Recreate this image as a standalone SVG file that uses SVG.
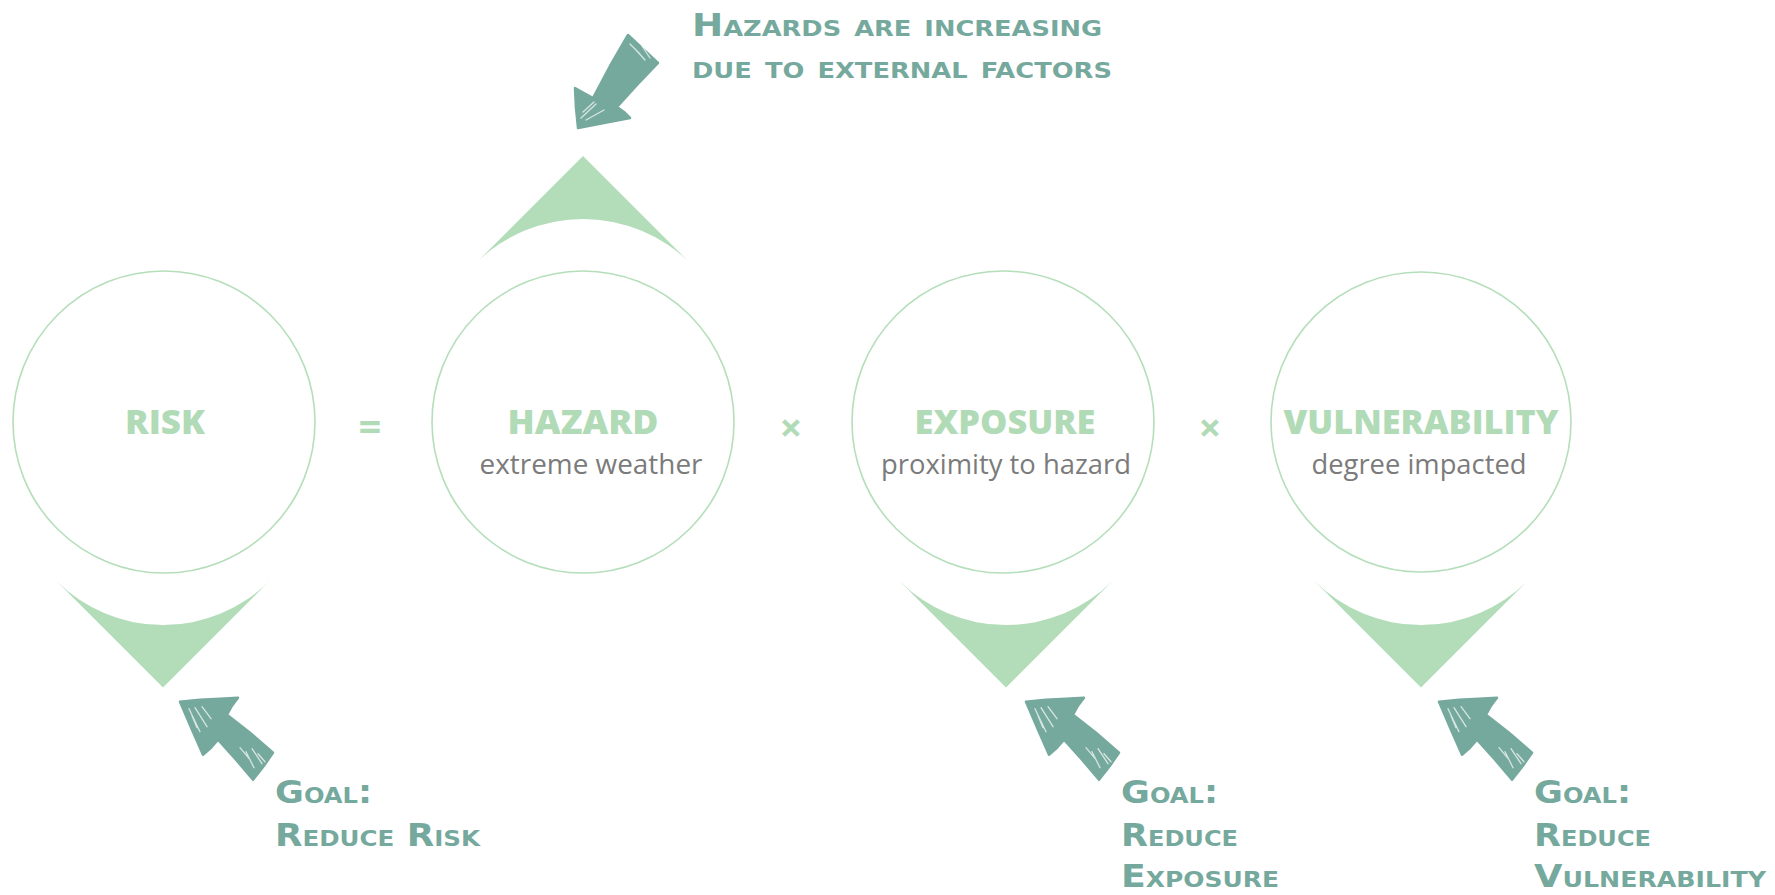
<svg xmlns="http://www.w3.org/2000/svg" xmlns:xlink="http://www.w3.org/1999/xlink" width="1775" height="895" viewBox="0 0 1775 895">
<style>
.ring{fill:none;stroke:#b5deba;stroke-width:1.6}
.chev{fill:#b3dcb8}
.title{font-family:"Open Sans","Liberation Sans",sans-serif;font-weight:800;font-size:34px;fill:#b1dbb6;text-anchor:middle}
.sub{font-family:"Open Sans","Liberation Sans",sans-serif;font-weight:400;font-size:27px;fill:#7b7b7b;text-anchor:middle}
.op{font-family:"Open Sans","Liberation Sans",sans-serif;font-weight:700;font-size:40px;fill:#b1dbb6;text-anchor:middle}
.hand{font-family:"DejaVu Sans",sans-serif;font-weight:bold;font-size:32px;font-variant:small-caps;fill:#76a99d}
.arw{fill:#76a99d;stroke:#76a99d;stroke-width:2.5;stroke-linejoin:round}
.hatch{stroke:#ffffff;stroke-width:1.3;stroke-linecap:round;opacity:0.7;fill:none}
</style>
<defs>
<g id="goalArrow">
<path class="arw" d="M0,0 L20,-2 L40,-3 L58,-4 L52,4 L47,13 L70,31 L93,51 L84,64 L73,78 L56,58 L38,38 L31,46 L23,53 L12,28 Z"/>
<path class="hatch" d="M9,7 L20,30 M15,6 L27,25 M22,5 L31,17 M12,14 L17,26 M66,50 L74,66 M72,47 L82,62 M78,52 L85,60 M60,46 L70,58"/>
</g>
</defs>
<rect width="1775" height="895" fill="#ffffff"/>

<g id="node-risk">
<circle class="ring" cx="164" cy="422" r="151"/>
<text class="title" x="165" y="434" textLength="80" lengthAdjust="spacingAndGlyphs">RISK</text>
</g>

<g id="node-hazard">
<circle class="ring" cx="583" cy="422" r="151"/>
<text class="title" x="583" y="434" textLength="151" lengthAdjust="spacingAndGlyphs">HAZARD</text>
<text class="sub" x="591" y="474" textLength="223" lengthAdjust="spacingAndGlyphs">extreme weather</text>
</g>

<g id="node-exposure">
<circle class="ring" cx="1003" cy="422" r="151"/>
<text class="title" x="1005" y="434" textLength="181" lengthAdjust="spacingAndGlyphs">EXPOSURE</text>
<text class="sub" x="1006" y="474" textLength="250" lengthAdjust="spacingAndGlyphs">proximity to hazard</text>
</g>

<g id="node-vulnerability">
<circle class="ring" cx="1421" cy="422" r="150"/>
<text class="title" x="1421" y="434" textLength="275" lengthAdjust="spacingAndGlyphs">VULNERABILITY</text>
<text class="sub" x="1419" y="474" textLength="215" lengthAdjust="spacingAndGlyphs">degree impacted</text>
</g>

<g id="operators">
<text class="op" x="370" y="441">=</text>
<text class="op" x="791" y="442" font-size="46">×</text>
<text class="op" x="1210" y="442" font-size="46">×</text>
</g>

<g id="chevrons">
<path class="chev" d="M583,156 L690.5,263.5 A152,152 0 0 0 475.5,263.5 Z"/>
<path class="chev" d="M163,687.5 L56.2,580.8 A151,151 0 0 0 269.8,580.8 Z"/>
<path class="chev" d="M1006,687.5 L899.2,580.8 A151,151 0 0 0 1112.8,580.8 Z"/>
<path class="chev" d="M1421,687.5 L1314.2,580.8 A151,151 0 0 0 1527.8,580.8 Z"/>
</g>

<g id="connectors">
<g id="arrow-hazard">
<path class="arw" d="M578,128 L576,108 L575,88 L584,93 L593,98 L610,66 L628,35 L643,49 L658,63 L637,85 L617,107 L624,112 L630,118 L604,123 Z"/>
<path class="hatch" d="M581,118 L596,104 M583,112 L594,102 M586,120 L604,110 M636,50 L645,60 M630,44 L640,54 M642,46 L650,58"/>
</g>
<use xlink:href="#goalArrow" x="180" y="701.7"/>
<use xlink:href="#goalArrow" x="1026" y="701.7"/>
<use xlink:href="#goalArrow" x="1439" y="701.7"/>
</g>

<g id="note-hazard">
<text class="hand" x="692" y="36" textLength="410" lengthAdjust="spacingAndGlyphs">Hazards are increasing</text>
<text class="hand" x="692" y="78" textLength="420" lengthAdjust="spacingAndGlyphs">due to external factors</text>
</g>

<g id="note-risk">
<text class="hand" x="275" y="803" textLength="97" lengthAdjust="spacingAndGlyphs">Goal:</text>
<text class="hand" x="275" y="846" textLength="205" lengthAdjust="spacingAndGlyphs">Reduce Risk</text>
</g>

<g id="note-exposure">
<text class="hand" x="1121" y="803" textLength="97" lengthAdjust="spacingAndGlyphs">Goal:</text>
<text class="hand" x="1121" y="846" textLength="117" lengthAdjust="spacingAndGlyphs">Reduce</text>
<text class="hand" x="1121" y="887" textLength="158" lengthAdjust="spacingAndGlyphs">Exposure</text>
</g>

<g id="note-vulnerability">
<text class="hand" x="1534" y="803" textLength="97" lengthAdjust="spacingAndGlyphs">Goal:</text>
<text class="hand" x="1534" y="846" textLength="117" lengthAdjust="spacingAndGlyphs">Reduce</text>
<text class="hand" x="1534" y="887" textLength="232" lengthAdjust="spacingAndGlyphs">Vulnerability</text>
</g>
</svg>
